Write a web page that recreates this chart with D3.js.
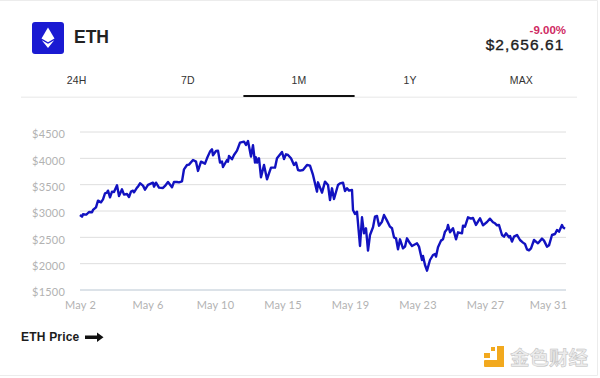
<!DOCTYPE html>
<html>
<head>
<meta charset="utf-8">
<script src="https://cdn.jsdelivr.net/npm/d3@7"></script>
<style>
  html, body { margin: 0; padding: 0; background: #fff; }
  svg { display: block; }
  text { font-family: "Liberation Sans", sans-serif; }
  .axis text { font-family: Lato, sans-serif; font-size: 11px; fill: #b2b2b2; letter-spacing: 0.2px; }
  .axis .domain { display: none; }
</style>
</head>
<body>
<div id="chart"></div>
<script>
// Position of each reading along the month, in sample steps from the start of May 2
var sampleSteps = [
  0,2,3,6,7,9,12,13,16,18,21,23,25,27,28,30,32,34,37,39,42,44,47,49,51,53,54,57,58,60,63,65,68,73,74,76,79,83,85,88,92,94,97,
  99,102,104,107,109,113,116,118,121,125,127,130,132,133,136,138,140,142,143,147,148,149,152,154,157,160,164,166,168,171,173,175,176,177,179,181,184,187,189,191,195,197,202,204,206,208,211,214,216,218,220,
  223,227,230,233,237,238,242,245,248,250,252,254,258,260,263,265,267,269,272,273,275,277,280,282,284,286,288,290,293,295,297,299,302,304,307,310,312,314,316,318,320,323,325,327,330,332,337,339,342,343,345,347,350,
  353,355,356,358,361,363,365,367,368,370,373,376,378,382,383,385,388,391,393,396,400,403,407,410,413,415,417,419,422,424,426,429,430,432,434,437,440,443,445,447,449,451,454,458,462,464,467,469,472,475,477,479,482,483,485
];

var ethPrice = [
  2915,2883,2928,2921,2934,2972,2966,3010,3061,3187,3155,3212,3326,3339,3377,3250,3358,3352,3478,3276,3402,3301,3314,3257,3358,3377,3345,3434,3453,3516,3472,3396,3485,3529,3453,3529,3434,3428,3466,3542,3440,3542,3542,
  3535,3554,3782,3864,3871,3959,3928,3751,3928,3890,3991,4118,4162,4048,4130,4137,3909,3928,3826,3959,3928,4035,3972,4054,4137,4289,4308,4244,4320,4023,4238,3909,4010,3909,3991,3630,3864,3592,3706,3814,3814,3991,4111,3978,4067,4054,3991,3864,3909,3769,3757,
  3769,3864,3852,3675,3358,3535,3339,3548,3485,3200,3421,3219,3485,3516,3529,3371,3421,3377,3390,3010,2934,2978,2326,2871,2567,2662,2238,2535,2681,2883,2896,2712,2788,2915,2807,2693,2662,2491,2472,2263,2453,2282,2314,2472,2377,2326,2377,2314,2060,2136,1965,1858,2060,
  2155,2174,2124,2301,2428,2453,2598,2643,2725,2586,2662,2453,2586,2567,2712,2693,2871,2845,2858,2725,2852,2719,2782,2845,2776,2757,2719,2725,2535,2504,2567,2491,2516,2409,2504,2535,2440,2390,2364,2263,2244,2282,2440,2377,2466,2428,2314,2339,2535,2554,2630,2598,2725,2681,2655
];

var dateLabels = ["May 2", "May 6", "May 10", "May 15", "May 19", "May 23", "May 27", "May 31"];
var dateSteps = [0, 67.5, 135, 202.5, 270, 337.5, 405, 472.5];
var priceTicks = [1500, 2000, 2500, 3000, 3500, 4000, 4500];
var tabLabels = ["24H", "7D", "1M", "1Y", "MAX"];

var margin = {top: 131.5, right: 34, bottom: 88.5, left: 80};
var width = 600 - margin.left - margin.right,
    height = 378 - margin.top - margin.bottom;

var root = d3.select("#chart").append("svg")
    .attr("width", 600)
    .attr("height", 378);

// Card edges
root.append("path")
    .attr("d", "M0,0.5H597.5V375.5H0")
    .attr("fill", "none")
    .attr("stroke", "#ececec");

// Header
root.append("rect")
    .attr("x", 32).attr("y", 22)
    .attr("width", 32).attr("height", 32)
    .attr("rx", 3)
    .attr("fill", "#1a1ad2");
root.append("path")
    .attr("d", "M48,27.5L54.5,38.5L48,42.2L41.5,38.5Z")
    .attr("fill", "#fff");
root.append("path")
    .attr("d", "M41.8,40.2L48,43.8L54.2,40.2L48,48Z")
    .attr("fill", "#fff");
root.append("text")
    .attr("x", 74).attr("y", 43)
    .attr("font-size", 17.5).attr("font-weight", 700)
    .attr("fill", "#222")
    .text("ETH");
root.append("text")
    .attr("x", 566).attr("y", 34)
    .attr("text-anchor", "end")
    .attr("font-size", 11.5).attr("font-weight", 700)
    .attr("fill", "#cf2a63")
    .text("-9.00%");
root.append("text")
    .attr("x", 564.5).attr("y", 49.5)
    .attr("text-anchor", "end")
    .attr("font-size", 15.5)
    .attr("letter-spacing", 1.1)
    .attr("fill", "#1c1c1c")
    .attr("stroke", "#1c1c1c")
    .attr("stroke-width", 0.35)
    .text("$2,656.61");

// Tabs
var tabX = d3.scaleBand().domain(tabLabels).range([21, 577]);
root.selectAll(".tab").data(tabLabels).enter().append("text")
    .attr("class", "tab")
    .attr("x", function(d) { return tabX(d) + tabX.bandwidth() / 2; })
    .attr("y", 84)
    .attr("text-anchor", "middle")
    .attr("font-size", 10.5)
    .attr("letter-spacing", 0.2)
    .attr("fill", "#333")
    .text(function(d) { return d; });
root.append("rect")
    .attr("x", 21).attr("y", 96.5)
    .attr("width", 556).attr("height", 1.5)
    .attr("fill", "#efefef");
root.append("rect")
    .attr("x", tabX("1M")).attr("y", 95)
    .attr("width", tabX.bandwidth()).attr("height", 2)
    .attr("fill", "#111");

var svg = root.append("g")
    .attr("transform", "translate(" + margin.left + "," + margin.top + ")");

// Scales and axes
var x = d3.scaleLinear()
    .domain([0, 486])
    .range([0, width]);

var y = d3.scaleLinear()
    .domain([1500, 4500])
    .range([height, 0]);

var yAxis = d3.axisLeft(y)
    .tickValues(priceTicks)
    .tickSize(-width)
    .tickPadding(15)
    .tickFormat(function(d) { return "$" + d; });

var yG = svg.append("g")
    .attr("class", "axis y-axis")
    .call(yAxis);
yG.selectAll(".tick line")
    .attr("stroke", function(d) { return d === 1500 ? "#b9c6d2" : "#dedede"; });
yG.selectAll(".tick text").attr("dy", "0.75em").attr("y", -2);

var xAxis = d3.axisBottom(x)
    .tickValues(dateSteps)
    .tickSize(0)
    .tickPadding(11.5)
    .tickFormat(function(d, i) { return dateLabels[i]; });

var xG = svg.append("g")
    .attr("class", "axis x-axis")
    .attr("transform", "translate(0," + height + ")")
    .call(xAxis);
xG.selectAll(".tick").filter(function(d, i) { return i === dateLabels.length - 1; })
    .select("text").attr("dx", -4.5);

// Price line
var line = d3.line()
    .x(function(d, i) { return x(sampleSteps[i]); })
    .y(function(d) { return y(d); });

svg.append("path")
    .datum(ethPrice)
    .attr("fill", "none")
    .attr("stroke", "#1212c0")
    .attr("stroke-width", 2.4)
    .attr("stroke-linejoin", "round")
    .attr("d", line);

// Legend note
root.append("text")
    .attr("x", 21).attr("y", 341)
    .attr("font-size", 12).attr("font-weight", 700)
    .attr("letter-spacing", 0.2)
    .attr("fill", "#1c1c1c")
    .text("ETH Price");
root.append("path")
    .attr("d", "M85,335.5H97V332.5L103.5,337.2L97,342V339H85Z")
    .attr("fill", "#111");

// Watermark
root.append("rect").attr("x", 497).attr("y", 346).attr("width", 7).attr("height", 21).attr("fill", "#f2a91e");
root.append("rect").attr("x", 484).attr("y", 360).attr("width", 20).attr("height", 7).attr("rx", 1).attr("fill", "#f2a91e");
root.append("rect").attr("x", 484).attr("y", 353).attr("width", 6).attr("height", 5).attr("fill", "#f2a91e");
root.append("rect").attr("x", 491).attr("y", 347).attr("width", 4).attr("height", 4).attr("fill", "#f2a91e");
root.append("text")
    .attr("x", 510).attr("y", 365)
    .attr("font-size", 19.5)
    .attr("font-weight", 700)
    .attr("fill", "#ececec")
    .attr("stroke", "#bdbdbd")
    .attr("stroke-width", 0.5)
    .style("font-family", "'Noto Sans CJK SC'")
    .text("金色财经");
</script>
</body>
</html>
